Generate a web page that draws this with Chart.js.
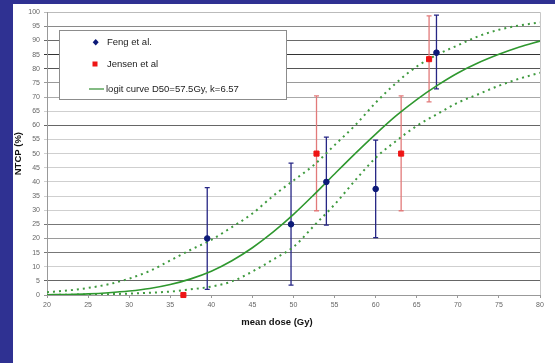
<!DOCTYPE html>
<html>
<head>
<meta charset="utf-8">
<script src="https://cdn.jsdelivr.net/npm/chart.js@4.4.0/dist/chart.umd.min.js"></script>
<style>
  html, body { margin: 0; padding: 0; background: #2f3192; width: 555px; height: 363px; overflow: hidden; }
  #panel { position: absolute; left: 13px; top: 4px; width: 542px; height: 359px; background: #fff; }
</style>
</head>
<body>
<div id="panel"><canvas id="ntcp" width="542" height="359"></canvas></div>
<script>
// Dose grid for the curves (Gy)
const doseGrid = [20, 22.5, 25, 27.5, 30, 32.5, 35, 37.5, 40, 42.5, 45, 47.5, 50,
                  52.5, 55, 57.5, 60, 62.5, 65, 67.5, 70, 72.5, 75, 77.5, 80];
// Logit curve D50=57.5Gy, k=6.57 (NTCP %)
const logitCurve = [0.1, 0.2, 0.4, 0.8, 1.4, 2.3, 3.7, 5.7, 8.4, 12.1, 16.7, 22.2, 28.5,
                    35.5, 42.8, 50, 56.9, 63.4, 69.1, 74.1, 78.5, 82.1, 85.1, 87.7, 89.8];
// Dotted confidence curves
const upperBand = [1.0, 1.6, 2.5, 3.8, 5.8, 8.5, 12.2, 16, 19.5, 24, 28.8, 35, 40.5,
                   46, 53, 60, 68, 75, 80.8, 85, 88.3, 91.5, 93.8, 95.3, 96.4];
const lowerBand = [0, 0.1, 0.2, 0.3, 0.5, 0.8, 1.2, 2, 3, 4.8, 8.3, 12.5, 17,
                   24.5, 32, 40.5, 48.5, 54.5, 59.8, 64, 68, 71, 74, 76.5, 78.6];

// Feng et al.
const fengDose = [39.5, 49.7, 54.0, 60.0, 67.4];
const fengNtcp = [20, 25, 40, 37.5, 85.7];
const fengLow  = [2, 3.5, 24.7, 20.3, 72.9];
const fengHigh = [38, 46.6, 55.8, 54.8, 99];

// Jensen et al
const jensenDose = [36.6, 52.8, 63.1, 66.5];
const jensenNtcp = [0, 50, 50, 83.4];
const jensenLow  = [null, 29.8, 29.8, 68.3];
const jensenHigh = [null, 70.4, 70.4, 98.7];

// Tick labels
const xTickValues = [20, 25, 30, 35, 40, 45, 50, 55, 60, 65, 70, 75, 80];
const yTickValues = [0, 5, 10, 15, 20, 25, 30, 35, 40, 45, 50, 55, 60, 65, 70, 75, 80, 85, 90, 95, 100];

const FONT = "'Liberation Sans', Arial, sans-serif";

// gridlines in the original have uneven darkness
const gridShade = { 95: '#8a8a8a', 90: '#6a6a6a', 85: '#333', 80: '#555', 75: '#9a9a9a', 70: '#aaa',
                    60: '#666', 25: '#777', 20: '#9a9a9a', 15: '#777', 5: '#666', 0: '#999', 100: '#bbb' };

function pts(xs, ys) {
    return xs.map((x, i) => ({ x: x, y: ys[i] }));
}

// vertical error bars with small caps
const errorBars = {
    id: 'errorBars',
    beforeDatasetsDraw(chart) {
        const ctx = chart.ctx;
        const xs = chart.scales.x, ys = chart.scales.y;
        const sets = [
            { dose: fengDose, low: fengLow, high: fengHigh, color: '#262685' },
            { dose: jensenDose, low: jensenLow, high: jensenHigh, color: '#e27a7a' }
        ];
        ctx.save();
        ctx.lineWidth = 1.3;
        sets.forEach(s => {
            ctx.strokeStyle = s.color;
            s.dose.forEach((d, i) => {
                if (s.low[i] == null) return;
                const px = xs.getPixelForValue(d);
                const y1 = ys.getPixelForValue(s.low[i]);
                const y2 = ys.getPixelForValue(s.high[i]);
                ctx.beginPath();
                ctx.moveTo(px, y1); ctx.lineTo(px, y2);
                ctx.moveTo(px - 2.5, y1); ctx.lineTo(px + 2.5, y1);
                ctx.moveTo(px - 2.5, y2); ctx.lineTo(px + 2.5, y2);
                ctx.stroke();
            });
        });
        ctx.restore();
    }
};

// legend box inside the plot + x axis title
const boxLegend = {
    id: 'boxLegend',
    afterDraw(chart) {
        const ctx = chart.ctx;
        ctx.save();
        ctx.fillStyle = '#fff';
        ctx.fillRect(46, 26, 227, 69);
        ctx.strokeStyle = '#8c8c8c';
        ctx.lineWidth = 1;
        ctx.strokeRect(46.5, 26.5, 227, 69);

        ctx.font = '9.5px ' + FONT;
        ctx.fillStyle = '#222';
        ctx.textBaseline = 'middle';

        // Feng marker (diamond)
        ctx.fillStyle = '#0d1a78';
        ctx.beginPath();
        ctx.moveTo(82.7, 35); ctx.lineTo(85.7, 38.3); ctx.lineTo(82.7, 41.6); ctx.lineTo(79.7, 38.3);
        ctx.closePath(); ctx.fill();
        // Jensen marker (square)
        ctx.fillStyle = '#ee1515';
        ctx.fillRect(79.5, 57.5, 5, 5);
        // logit line
        ctx.strokeStyle = '#5aa55a';
        ctx.lineWidth = 1.5;
        ctx.beginPath(); ctx.moveTo(76, 85); ctx.lineTo(91, 85); ctx.stroke();

        ctx.fillStyle = '#222';
        ctx.fillText('Feng et al.', 94, 38.5);
        ctx.fillText('Jensen et al', 94, 60.5);
        ctx.fillText('logit curve D50=57.5Gy, k=6.57', 93, 85);

        // x axis title
        ctx.font = 'bold 9.5px ' + FONT;
        ctx.fillStyle = '#111';
        ctx.textAlign = 'center';
        ctx.fillText('mean dose (Gy)', 264, 318);
        ctx.restore();
    }
};

new Chart(document.getElementById('ntcp'), {
    type: 'scatter',
    data: {
        datasets: [
            {
                label: 'Feng et al.',
                data: pts(fengDose, fengNtcp),
                pointStyle: 'circle',
                pointRadius: 2.8,
                backgroundColor: '#0d1a78',
                borderColor: '#0d1a78',
                clip: false
            },
            {
                label: 'Jensen et al',
                data: pts(jensenDose, jensenNtcp),
                pointStyle: 'rect',
                pointRadius: 3.6,
                backgroundColor: '#ee1515',
                borderColor: '#ee1515',
                clip: false
            },
            {
                type: 'line',
                label: 'logit curve D50=57.5Gy, k=6.57',
                data: pts(doseGrid, logitCurve),
                borderColor: '#2f982f',
                borderWidth: 1.6,
                pointRadius: 0,
                cubicInterpolationMode: 'monotone',
                fill: false
            },
            {
                type: 'line',
                label: 'upper',
                data: pts(doseGrid, upperBand),
                borderColor: '#3f9a3f',
                borderWidth: 2,
                borderDash: [2, 4],
                pointRadius: 0,
                cubicInterpolationMode: 'monotone',
                fill: false
            },
            {
                type: 'line',
                label: 'lower',
                data: pts(doseGrid, lowerBand),
                borderColor: '#3f9a3f',
                borderWidth: 2,
                borderDash: [2, 4],
                pointRadius: 0,
                cubicInterpolationMode: 'monotone',
                fill: false
            }
        ]
    },
    options: {
        responsive: false,
        animation: false,
        layout: { padding: { top: 8, right: 15, left: 0, bottom: 0 } },
        plugins: {
            legend: { display: false },
            tooltip: { enabled: false }
        },
        scales: {
            x: {
                type: 'linear',
                min: 20,
                max: 80,
                afterBuildTicks: s => { s.ticks = xTickValues.map(v => ({ value: v })); },
                afterFit: s => { s.height = 68; },
                ticks: {
                    font: { family: FONT, size: 7 },
                    color: '#666',
                    padding: 3,
                    maxRotation: 0
                },
                grid: {
                    color: c => (c.tick && c.tick.value === 80) ? '#c8c8c8' : 'rgba(0,0,0,0)',
                    tickColor: '#999',
                    tickLength: 3
                },
                border: { color: '#999' }
            },
            y: {
                min: 0,
                max: 100,
                afterBuildTicks: s => { s.ticks = yTickValues.map(v => ({ value: v })); },
                afterFit: s => { s.width = 34; },
                ticks: {
                    font: { family: FONT, size: 7 },
                    color: '#666',
                    padding: 4
                },
                grid: {
                    color: c => (c.tick && gridShade[c.tick.value]) || '#cfcfcf',
                    tickLength: 3
                },
                border: { color: '#999' },
                title: {
                    display: true,
                    text: 'NTCP (%)',
                    font: { family: FONT, size: 9.5, weight: 'bold' },
                    color: '#111',
                    padding: 0
                }
            }
        }
    },
    plugins: [errorBars, boxLegend]
});
</script>
</body>
</html>
